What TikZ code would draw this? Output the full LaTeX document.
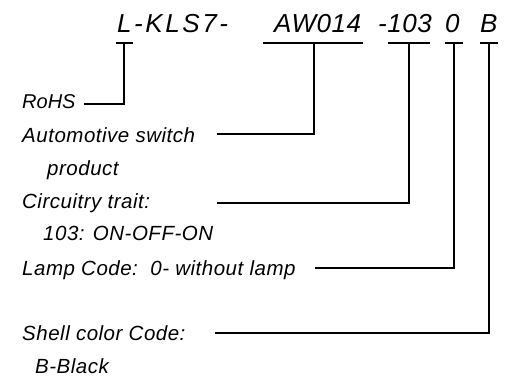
\documentclass[tikz,border=0pt]{standalone}
\usepackage{fontspec}
\setmainfont{Liberation Sans}
\newfontfamily\lblfont[LetterSpace=2.5]{Liberation Sans}
\newfontfamily\codefont[LetterSpace=2]{Liberation Sans}
\newfontfamily\widecodefont[LetterSpace=10]{Liberation Sans}
\usetikzlibrary{positioning}

\begin{document}
\begin{tikzpicture}[x=1pt, y=-1pt,
  code/.style={anchor=base west, inner sep=0pt, font=\codefont\fontsize{26}{30}\selectfont\itshape},
  widecode/.style={code, font=\widecodefont\fontsize{26}{30}\selectfont\itshape},
  lbl/.style={anchor=base west, inner sep=0pt, font=\lblfont\fontsize{20.5}{24}\selectfont\itshape},
  bar/.style={line width=1.3pt},
  lead/.style={line width=1.3pt}
]
\useasboundingbox (0,0) rectangle (517,378);

% Part number
\node[widecode] (pnBase) at (117,32) {L-KLS7-};
\node[code] (pnAuto)  at (274,32) {AW014};
\node[code] (pnCirc)  at (378,32) {-103};
\node[code] (pnLamp)  at (445,32) {0};
\node[code] (pnShell) at (480,32) {B};

% Tick points under the code
\coordinate (tRoHS)  at (124,43);
\coordinate (tAuto)  at (314,43);
\coordinate (tCirc)  at (409,43);
\coordinate (tLamp)  at (454,43);
\coordinate (tShell) at (489,43);

% Bars
\draw[bar] ([xshift=-8pt]tRoHS)   -- ([xshift=9pt]tRoHS);
\draw[bar] ([xshift=-51pt]tAuto)  -- ([xshift=49pt]tAuto);
\draw[bar] ([xshift=-21pt]tCirc)  -- ([xshift=21pt]tCirc);
\draw[bar] ([xshift=-9pt]tLamp)   -- ([xshift=9pt]tLamp);
\draw[bar] ([xshift=-9pt]tShell)  -- ([xshift=9pt]tShell);

% Descriptions
\node[lbl, font=\fontsize{20}{24}\selectfont\itshape] (dRoHS) at (22,108) {RoHS};
\node[lbl] (dAuto)   at (22,142) {Automotive switch};
\node[lbl] (dAuto2)  at (47,175) {product};
\node[lbl] (dCirc)   at (22,208) {Circuitry trait:};
\node[lbl] (dCirc2)  at (43,240) {103: ON-OFF-ON};
\node[lbl] (dLamp)   at (22,275) {Lamp Code:\ \ 0- without lamp};
\node[lbl] (dShell)  at (22,340) {Shell color Code:};
\node[lbl] (dShell2) at (35,373) {B-Black};

% Leader starts
\coordinate (kRoHS)  at (84,104);
\coordinate (kAuto)  at (217,134);
\coordinate (kCirc)  at (217,203);
\coordinate (kLamp)  at (315,268);
\coordinate (kShell) at (215,333);

% Leaders
\draw[lead] (kRoHS)  -| (tRoHS);
\draw[lead] (kAuto)  -| (tAuto);
\draw[lead] (kCirc)  -| (tCirc);
\draw[lead] (kLamp)  -| (tLamp);
\draw[lead] (kShell) -| (tShell);
\end{tikzpicture}
\end{document}
